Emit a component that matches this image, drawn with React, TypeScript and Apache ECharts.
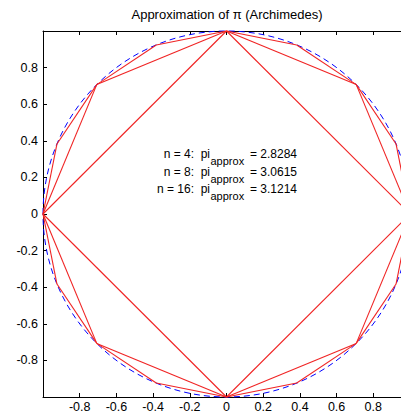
import React, { useEffect, useRef } from "react";
import * as echarts from "echarts";

// unit circle: [centerX, centerY, radius]
const circleData = [[0, 0, 1]];

// inscribed polygons (vertices, closed)
const square = [
  [1, 0], [0, 1], [-1, 0], [0, -1], [1, 0],
];
const octagon = [
  [1, 0], [0.7071, 0.7071], [0, 1], [-0.7071, 0.7071], [-1, 0],
  [-0.7071, -0.7071], [0, -1], [0.7071, -0.7071], [1, 0],
];
const hexadecagon = [
  [1, 0], [0.9239, 0.3827], [0.7071, 0.7071], [0.3827, 0.9239], [0, 1],
  [-0.3827, 0.9239], [-0.7071, 0.7071], [-0.9239, 0.3827], [-1, 0],
  [-0.9239, -0.3827], [-0.7071, -0.7071], [-0.3827, -0.9239], [0, -1],
  [0.3827, -0.9239], [0.7071, -0.7071], [0.9239, -0.3827], [1, 0],
];

const nLabels = ["n = 4:  pi", "n = 8:  pi", "n = 16:  pi"];
const approxValues = ["= 2.8284", "= 3.0615", "= 3.1214"];

const FONT = "'Liberation Sans', Arial, Helvetica, sans-serif";
const RED = "#f02424";

function tickFmt(v: number) {
  if (Math.abs(v) > 0.99) return "";
  const r = Math.round(v * 10) / 10;
  return String(r);
}

// polygon edges as [x1, y1, x2, y2]
function edges(poly: number[][]) {
  const out: number[][] = [];
  for (let i = 0; i < poly.length - 1; i++) {
    out.push([poly[i][0], poly[i][1], poly[i + 1][0], poly[i + 1][1]]);
  }
  return out;
}

export default function App() {
  const ref = useRef<HTMLDivElement>(null);
  useEffect(() => {
    document.body.style.margin = "0";
    if (!ref.current) return;
    const chart = echarts.init(ref.current, null, { renderer: "svg" });

    const axisCommon = {
      type: "value",
      min: -1,
      max: 1,
      interval: 0.2,
      axisLine: { show: true, onZero: false, lineStyle: { color: "#000", width: 1 } },
      axisTick: { show: true, inside: true, length: 4, lineStyle: { color: "#000" } },
      splitLine: { show: false },
    };

    const textEls: any[] = [];
    const baseY = [154, 171.5, 189];
    nLabels.forEach((t, i) => {
      textEls.push({
        type: "text",
        x: 210,
        y: baseY[i],
        style: {
          text: t,
          font: `12px ${FONT}`,
          fill: "#000",
          textAlign: "right",
          textVerticalAlign: "middle",
          align: "right",
          verticalAlign: "middle",
        },
      });
      textEls.push({
        type: "text",
        x: 210.5,
        y: baseY[i] + 7,
        style: {
          text: "approx",
          font: `11px ${FONT}`,
          fill: "#000",
          textAlign: "left",
          textVerticalAlign: "middle",
          align: "left",
          verticalAlign: "middle",
        },
      });
      textEls.push({
        type: "text",
        x: 250,
        y: baseY[i],
        style: {
          text: approxValues[i],
          font: `12px ${FONT}`,
          fill: "#000",
          textAlign: "left",
          textVerticalAlign: "middle",
          align: "left",
          verticalAlign: "middle",
        },
      });
    });

    const polySeries = (name: string, poly: number[][]) => ({
      type: "custom",
      name,
      coordinateSystem: "cartesian2d",
      xAxisIndex: 0,
      yAxisIndex: 0,
      data: edges(poly),
      encode: { x: [0, 2], y: [1, 3] },
      clip: false,
      silent: true,
      renderItem: (_params: any, api: any) => {
        const a = api.coord([api.value(0), api.value(1)]);
        const b = api.coord([api.value(2), api.value(3)]);
        return {
          type: "line",
          shape: { x1: a[0], y1: a[1], x2: b[0], y2: b[1] },
          style: { stroke: RED, lineWidth: 1.1, fill: null },
        };
      },
    });

    chart.setOption({
      animation: false,
      backgroundColor: "#fff",
      title: {
        text: "Approximation of π (Archimedes)",
        left: 227,
        top: 8,
        padding: 0,
        textAlign: "center",
        textStyle: { fontFamily: FONT, fontSize: 13, fontWeight: "normal", color: "#000" },
      },
      grid: {
        left: 43,
        top: 31,
        width: 367,
        height: 366,
        containLabel: false,
        outerBoundsMode: "none",
      },
      xAxis: [
        {
          ...axisCommon,
          position: "bottom",
          axisLabel: {
            show: true,
            formatter: tickFmt,
            margin: 4,
            color: "#000",
            fontFamily: FONT,
            fontSize: 12.5,
            lineHeight: 12,
          },
        },
        {
          ...axisCommon,
          position: "top",
          axisLabel: { show: false },
        },
      ],
      yAxis: [
        {
          ...axisCommon,
          position: "left",
          axisLabel: {
            show: true,
            formatter: tickFmt,
            margin: 5,
            color: "#000",
            fontFamily: FONT,
            fontSize: 12.5,
          },
        },
        {
          ...axisCommon,
          position: "right",
          axisLabel: { show: false },
        },
      ],
      series: [
        {
          type: "custom",
          name: "circle",
          coordinateSystem: "cartesian2d",
          xAxisIndex: 0,
          yAxisIndex: 0,
          data: circleData,
          clip: false,
          silent: true,
          renderItem: (_params: any, api: any) => {
            const c = api.coord([api.value(0), api.value(1)]);
            const s = api.size([api.value(2), api.value(2)]);
            return {
              type: "ellipse",
              shape: { cx: c[0], cy: c[1], rx: s[0], ry: s[1] },
              style: { fill: "none", stroke: "#0000ff", lineWidth: 1, lineDash: [6, 4] },
            };
          },
        },
        polySeries("n=4", square),
        polySeries("n=8", octagon),
        polySeries("n=16", hexadecagon),
      ],
      graphic: textEls,
    });

    return () => chart.dispose();
  }, []);

  return <div ref={ref} style={{ width: 401, height: 414 }} />;
}
